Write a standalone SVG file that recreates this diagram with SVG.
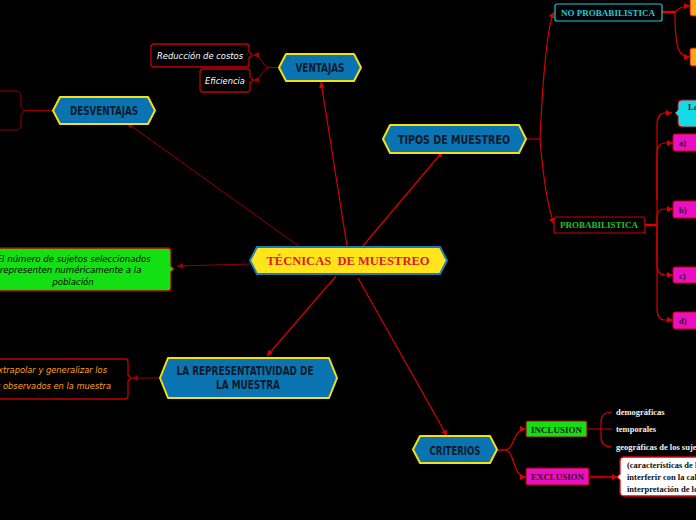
<svg xmlns="http://www.w3.org/2000/svg" width="696" height="520" viewBox="0 0 696 520">
<style>
.hex{fill:#0a74b2;stroke:#f5df10;stroke-width:2;stroke-linejoin:round}
.hxt{font-family:"DejaVu Sans Condensed","DejaVu Sans",sans-serif;font-weight:bold;font-size:12.5px;fill:#0b1b2c;text-anchor:middle}
.ln{fill:none;stroke:#d80000;stroke-width:1.2}
.dk{fill:none;stroke:#990000;stroke-width:1}
.th{fill:none;stroke:#e00000;stroke-width:2.5}
.bx{stroke:#c00000;stroke-width:1.3}
.it{font-family:"DejaVu Sans",sans-serif;font-style:italic;font-size:8.3px}
.sm{font-family:"Liberation Serif","Times New Roman",serif;font-weight:bold;font-size:8.5px}
</style>
<defs>
<marker id="ar" markerWidth="7" markerHeight="6" refX="6" refY="3" orient="auto" markerUnits="userSpaceOnUse">
<path d="M0,0 L6,3 L0,6 Z" fill="#d80000"/>
</marker>
<marker id="ard" markerWidth="7" markerHeight="6" refX="6" refY="3" orient="auto" markerUnits="userSpaceOnUse">
<path d="M0,0 L6,3 L0,6 Z" fill="#990000"/>
</marker>
</defs>
<rect width="696" height="520" fill="#000"/>

<g id="connectors">
<line class="ln" x1="347" y1="246" x2="321" y2="82" marker-end="url(#ar)"/>
<line class="dk" x1="300" y1="247" x2="127" y2="123" marker-end="url(#ard)"/>
<line class="ln" x1="362" y1="247" x2="443" y2="151" marker-end="url(#ar)"/>
<line class="dk" x1="250" y1="264" x2="177" y2="266" marker-end="url(#ard)"/>
<line class="ln" x1="336" y1="276" x2="267" y2="356" marker-end="url(#ar)"/>
<line class="ln" x1="358" y1="278" x2="447" y2="436" marker-end="url(#ar)"/>
<path class="dk" d="M279,67.5 L270,67.5 C262,67.5 262,55 253,55" marker-end="url(#ard)"/>
<path class="dk" d="M279,67.5 L270,67.5 C262,67.5 262,80 253,80" marker-end="url(#ard)"/>
<line class="dk" x1="53" y1="110.5" x2="25" y2="110.5"/>
<line class="dk" x1="160" y1="378" x2="132" y2="378" marker-end="url(#ard)"/>
<path class="ln" d="M526,139 L540,139 Q545,30 554,12" marker-end="url(#ar)"/>
<path class="ln" d="M540,139 Q545,200 554,224" marker-end="url(#ar)"/>
<line class="th" x1="662" y1="12" x2="675" y2="12"/>
<path class="ln" d="M675,12 Q680,6 690,6" marker-end="url(#ar)"/>
<path class="ln" d="M675,12 C675,50 679,57 690,57" marker-end="url(#ar)"/>
<line class="th" x1="645" y1="225" x2="657" y2="225"/>
<path class="ln" d="M657,225 L657,125 Q657,113 665,113 L672,113" marker-end="url(#ar)"/>
<path class="ln" d="M657,200 L657,153 Q657,143 665,143 L673,143" marker-end="url(#ar)"/>
<path class="ln" d="M657,225 L657,217 Q657,209 665,209 L673,209" marker-end="url(#ar)"/>
<path class="ln" d="M657,225 L657,265 Q657,275 665,275 L673,275" marker-end="url(#ar)"/>
<path class="ln" d="M657,225 L657,308 Q657,320 665,320 L673,320" marker-end="url(#ar)"/>
<path class="ln" d="M497,450 L505,450 C515,450 512,429 526,429" marker-end="url(#ar)"/>
<path class="ln" d="M497,450 L505,450 C515,450 512,477 526,477" marker-end="url(#ar)"/>
<path class="ln" d="M587,429 L612,429 M612,412 Q601,412 601,422 L601,437 Q601,447 612,447"/>
<line class="th" x1="589" y1="477" x2="605" y2="477" style="stroke:#b00000"/>
<line class="ln" x1="604" y1="477" x2="618" y2="477" marker-end="url(#ar)" style="stroke:#b00000;stroke-width:2"/>
</g>

<g id="central">
<polygon points="250,260.5 257,247 440,247 447,260.5 440,274 257,274" fill="#ffe51a" stroke="#1a7db8" stroke-width="2" stroke-linejoin="round"/>
<text x="348" y="265" font-family="Liberation Serif,serif" font-weight="bold" font-size="12.5" fill="#e0162b" text-anchor="middle" textLength="163" lengthAdjust="spacingAndGlyphs" xml:space="preserve">TÉCNICAS  DE MUESTREO</text>
</g>

<g id="ventajas">
<polygon class="hex" points="279,67.5 286,54 354,54 361,67.5 354,81 286,81"/>
<text class="hxt" x="320" y="72" textLength="49" lengthAdjust="spacingAndGlyphs">VENTAJAS</text>
</g>
<g id="reduccion">
<path class="bx" fill="#000" d="M154,44 H246 Q249,44 249,47 V52 L252,55 L249,58 V64 Q249,67 246,67 H154 Q151,67 151,64 V47 Q151,44 154,44 Z"/>
<text class="it" x="200" y="59" fill="#fff" text-anchor="middle" textLength="86" lengthAdjust="spacingAndGlyphs">Reducción de costos</text>
</g>
<g id="eficiencia">
<path class="bx" fill="#000" d="M203,69 H247 Q250,69 250,72 V77 L253,80 L250,83 V89 Q250,92 247,92 H203 Q200,92 200,89 V72 Q200,69 203,69 Z"/>
<text class="it" x="225" y="83.5" fill="#fff" text-anchor="middle">Eficiencia</text>
</g>

<g id="desventajas">
<polygon class="hex" points="53,110.5 60,97 148,97 155,110.5 148,124 60,124"/>
<text class="hxt" x="104" y="115" font-size="13" textLength="68" lengthAdjust="spacingAndGlyphs">DESVENTAJAS</text>
</g>
<g id="desventajas-box">
<path class="dk" fill="#000" stroke-width="1.3" d="M-5,91 H15 Q21,91 21,97 V107 L25,110.5 L21,114 V124 Q21,130 15,130 H-5 Z"/>
</g>

<g id="green-box">
<path stroke="#b00000" stroke-width="1.3" fill="#12e012" d="M-5,248 H168 Q171,248 171,251 V266 L174,269 L171,272 V288 Q171,291 168,291 H-5 Z"/>
<text font-family="DejaVu Sans,sans-serif" font-style="italic" font-size="8.6" fill="#000" text-anchor="middle">
<tspan x="75" y="262">El número de sujetos seleccionados</tspan>
<tspan x="72" y="273">representen numéricamente a la</tspan>
<tspan x="73" y="285">población</tspan>
</text>
</g>

<g id="representatividad">
<polygon class="hex" points="160,378 168,358 329,358 337,378 329,398 168,398"/>
<text class="hxt" text-anchor="middle"><tspan x="245" y="375" textLength="137" lengthAdjust="spacingAndGlyphs">LA REPRESENTATIVIDAD DE</tspan><tspan x="248" y="389" textLength="64" lengthAdjust="spacingAndGlyphs">LA MUESTRA</tspan></text>
</g>
<g id="extrapolar">
<path class="bx" fill="#000" d="M-5,359 H125 Q128,359 128,362 V375 L131,378 L128,381 V396 Q128,399 125,399 H-5 Z"/>
<text class="it" fill="#ffa21a" text-anchor="end"><tspan x="107" y="373">Extrapolar y generalizar los</tspan><tspan x="111" y="389">resultados observados en la muestra</tspan></text>
</g>

<g id="tipos">
<polygon class="hex" points="383,139 390,125 519,125 526,139 519,153 390,153"/>
<text class="hxt" x="454" y="143.5" textLength="112" lengthAdjust="spacingAndGlyphs">TIPOS DE MUESTREO</text>
</g>
<g id="no-probabilistica">
<rect x="555" y="4" width="107" height="17" rx="2" fill="#000" stroke="#22c8d8" stroke-width="1.2"/>
<text class="sm" x="608" y="15.5" fill="#22c8d8" text-anchor="middle" textLength="94" lengthAdjust="spacingAndGlyphs">NO PROBABILISTICA</text>
</g>
<g id="orange-1"><rect x="690" y="-3" width="12" height="19" rx="2" fill="#ffa31a" stroke="#d00000" stroke-width="1"/></g>
<g id="orange-2"><rect x="690" y="48" width="12" height="18" rx="2" fill="#ffa31a" stroke="#d00000" stroke-width="1"/></g>
<g id="probabilistica">
<rect x="554" y="217" width="91" height="16" rx="2" fill="#000" stroke="#d00000" stroke-width="1.2"/>
<text class="sm" x="599" y="228" fill="#22c022" text-anchor="middle" textLength="78" lengthAdjust="spacingAndGlyphs">PROBABILISTICA</text>
</g>
<g id="la-box">
<path fill="#12dde6" stroke="#d00000" stroke-width="1" d="M682,100 H702 V127 H682 Q678,127 678,123 V116 L675,113 L678,110 V104 Q678,100 682,100 Z"/>
<text class="sm" x="688" y="110" fill="#0b1b2c">La</text>
</g>
<g id="opt-a"><rect x="673" y="134" width="30" height="17" rx="2" fill="#e810c0" stroke="#d00000" stroke-width="1"/><text class="sm" x="679" y="146" fill="#3a0a30">a)</text></g>
<g id="opt-b"><rect x="673" y="201" width="30" height="17" rx="2" fill="#e810c0" stroke="#d00000" stroke-width="1"/><text class="sm" x="679" y="213" fill="#3a0a30">b)</text></g>
<g id="opt-c"><rect x="673" y="267" width="30" height="16" rx="2" fill="#e810c0" stroke="#d00000" stroke-width="1"/><text class="sm" x="679" y="278.5" fill="#3a0a30">c)</text></g>
<g id="opt-d"><rect x="673" y="312" width="30" height="17" rx="2" fill="#e810c0" stroke="#d00000" stroke-width="1"/><text class="sm" x="679" y="324" fill="#3a0a30">d)</text></g>

<g id="criterios">
<polygon class="hex" points="413,449.5 420,436 490,436 497,449.5 490,463 420,463"/>
<text class="hxt" x="455" y="454.5" textLength="51" lengthAdjust="spacingAndGlyphs">CRITERIOS</text>
</g>
<g id="inclusion">
<rect x="526" y="421" width="61" height="16" rx="1.5" fill="#12e012" stroke="#a00000" stroke-width="1.2"/>
<text class="sm" x="556.5" y="432.5" fill="#1a1a1a" text-anchor="middle" textLength="51" lengthAdjust="spacingAndGlyphs">INCLUSION</text>
</g>
<g id="exclusion">
<rect x="526" y="468" width="63" height="17" rx="1.5" fill="#e810c0" stroke="#a00000" stroke-width="1.2"/>
<text class="sm" x="557.5" y="480" fill="#3a0a30" text-anchor="middle" textLength="53" lengthAdjust="spacingAndGlyphs">EXCLUSION</text>
</g>
<g id="sub-inclusion" fill="#f0f0f0">
<text class="sm" x="616" y="415" font-size="8.8">demográficas</text>
<text class="sm" x="616" y="432" font-size="8.8">temporales</text>
<text class="sm" x="616" y="450" font-size="8.8">geográficas de los sujetos</text>
</g>
<g id="exclusion-box">
<path fill="#fff" stroke="#e00000" stroke-width="1.3" d="M624,457 H702 V496 H624 Q620,496 620,492 V480 L617,477 L620,474 V461 Q620,457 624,457 Z"/>
<text class="sm" fill="#111" font-size="8.8"><tspan x="627" y="468">(características de los sujetos</tspan><tspan x="627" y="480">interferir con la calidad</tspan><tspan x="627" y="492">interpretación de los</tspan></text>
</g>
</svg>
